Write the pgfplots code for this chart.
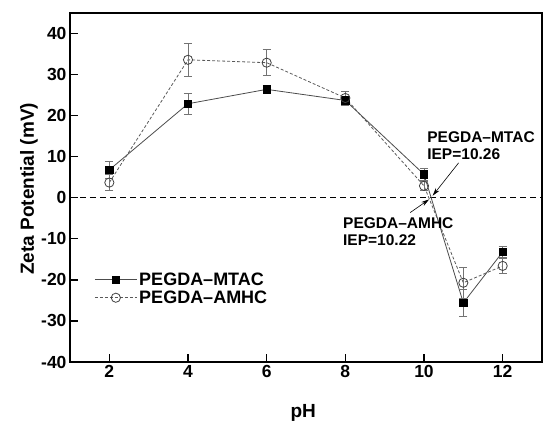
\documentclass[border=0pt]{standalone}
\usepackage{fontspec}
\setmainfont{Liberation Sans}
\usepackage{pgfplots}
\pgfplotsset{compat=1.18}
\usetikzlibrary{arrows.meta}
\begin{document}
\begin{tikzpicture}[x=1pt,y=1pt]
\path[use as bounding box] (0,0) rectangle (550,431);
\begin{axis}[
  at={(70pt,69pt)}, anchor=south west,
  scale only axis, width=472pt, height=349pt,
  xmin=1, xmax=13, ymin=-40, ymax=45,
  xtick={2,4,6,8,10,12}, ytick={-40,-30,-20,-10,0,10,20,30,40},
  axis line style={line width=1.6pt},
  tick style={line width=1.3pt, black},
  major tick length=8pt,
  tick align=inside,
  xtick pos=lower, ytick pos=left,
  ticklabel style={font=\fontsize{17.5}{20}\selectfont\bfseries},
  /pgf/number format/assume math mode=true,
  xlabel={pH}, ylabel={Zeta Potential (mV)},
  label style={font=\fontsize{19}{21}\selectfont\bfseries},
  xlabel style={at={(axis description cs:0.494,-0.146)}, anchor=center},
  ylabel style={at={(axis description cs:-0.087,0.496)}, anchor=center},
  legend style={draw=none, fill=none, at={(axis description cs:0.045,0.21)}, anchor=west,
    font=\fontsize{18}{20}\selectfont\bfseries, row sep=0pt, cells={anchor=west}},
  legend image code/.code={\draw[mark repeat=2,mark phase=2,#1] plot coordinates {(0pt,0pt) (21pt,0pt) (42pt,0pt)};},
  clip=false,
]
\draw[black, line width=0.9pt, dash pattern=on 6pt off 4pt] (axis cs:1,0) -- (axis cs:13,0);

\addplot[color=black!70, line width=0.8pt, mark=square*,
  mark options={solid, fill=black, draw=black, mark size=3.6pt},
  error bars/.cd, y dir=both, y explicit,
  error bar style={black!55, line width=0.8pt, solid},
  error mark options={rotate=90, mark size=4pt, black!55, line width=0.8pt}]
table[x=x, y=y, y error=e] {
x y e
2 6.8 2.0
4 22.9 2.6
6 26.4 1.0
8 23.7 1.0
10 5.7 1.5
11 -25.6 3.2
12 -13.2 1.4
};
\addlegendentry{PEGDA\textendash MTAC}

\addplot[color=black!65, line width=0.8pt, dash pattern=on 3pt off 2pt, mark=o,
  mark options={solid, fill=white, draw=black!75, mark size=4.6pt},
  error bars/.cd, y dir=both, y explicit,
  error bar style={black!55, line width=0.8pt, solid},
  error mark options={rotate=90, mark size=4pt, black!55, line width=0.8pt}]
table[x=x, y=y, y error=e] {
x y e
2 3.7 2.0
4 33.6 4.0
6 32.9 3.2
8 24.3 1.7
10 2.9 1.0
11 -20.7 3.7
12 -16.6 1.9
};
\addlegendentry{PEGDA\textendash AMHC}

\draw[-{Stealth[length=8pt,width=4.5pt]}, line width=0.6pt] (axis cs:10.88,8.5) -- (axis cs:10.22,0.5);
\draw[-{Stealth[length=8pt,width=4.5pt]}, line width=0.6pt] (axis cs:9.65,-3.6) -- (axis cs:10.13,-0.4);
\node[anchor=north west, inner sep=0pt, align=left, font=\fontsize{15.5}{17}\selectfont\bfseries]
  at (axis cs:10.08,16.2) {PEGDA\textendash MTAC\\IEP=10.26};
\node[anchor=north west, inner sep=0pt, align=left, font=\fontsize{15.5}{17}\selectfont\bfseries]
  at (axis cs:7.94,-4.7) {PEGDA\textendash AMHC\\IEP=10.22};
\end{axis}
\end{tikzpicture}
\end{document}
